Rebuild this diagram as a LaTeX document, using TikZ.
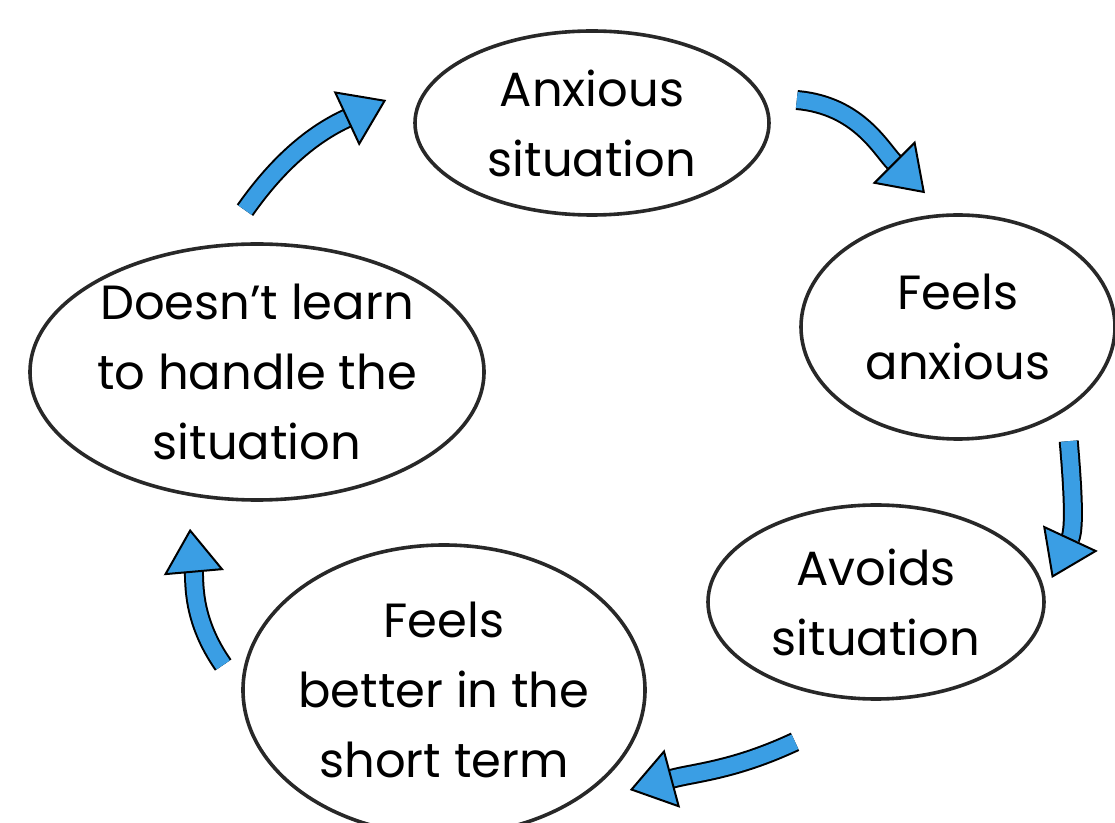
\documentclass[tikz,border=0pt]{standalone}
\usepackage{fontspec}
\setmainfont{Poppins}
\usetikzlibrary{shapes.geometric,arrows.meta}

\definecolor{flowblue}{RGB}{58,158,228}
\definecolor{inkgray}{RGB}{40,40,40}

\tikzset{
  bubble/.style={ellipse, draw=inkgray, line width=1.8pt, inner sep=-40pt,
    align=center, font=\fontsize{24}{35}\selectfont},
  flow/.style={draw=black, line width=1pt, double=flowblue, double distance=8pt,
    -{Triangle[length=22pt,width=30pt,fill=flowblue]}},
}

\begin{document}
\begin{tikzpicture}[x=0.5pt, y=0.5pt]
    \useasboundingbox (0,0) rectangle (1115,-823);

    \node (anx) [bubble, minimum width=177pt, minimum height=92pt] at (592,-123) {Anxious\\situation};
    \node (feel) [bubble, minimum width=157pt, minimum height=112pt] at (958,-327) {Feels\\anxious};
    \node (avoid) [bubble, minimum width=168pt, minimum height=97pt] at (876,-602) {Avoids\\situation};
    \node (better) [bubble, minimum width=201pt, minimum height=145pt] at (444,-690) {Feels\\better in the\\short term};
    \node (learn) [bubble, minimum width=227pt, minimum height=128pt] at (257,-372) {Doesn't learn\\to handle the\\situation};

    \draw [flow] ([shift={(26,23)}]anx.east) to[out=-5, in=135] ([shift={(-33,20)}]feel.north);
    \draw [flow] ([shift={(50,-9)}]feel.-60) to[out=-85, in=65] ([shift={(6,24)}]avoid.east);
    \draw [flow] ([shift={(-81,-41)}]avoid.south) to[out=-155, in=15] ([shift={(-17,-100)}]better.east);
    \draw [flow] ([shift={(-18,25)}]better.west) to[out=125, in=-85] ([shift={(-67,-27)}]learn.south);
    \draw [flow] ([shift={(-12,32)}]learn.north) to[out=55, in=-155] ([shift={(-27,23)}]anx.west);
\end{tikzpicture}
\end{document}
